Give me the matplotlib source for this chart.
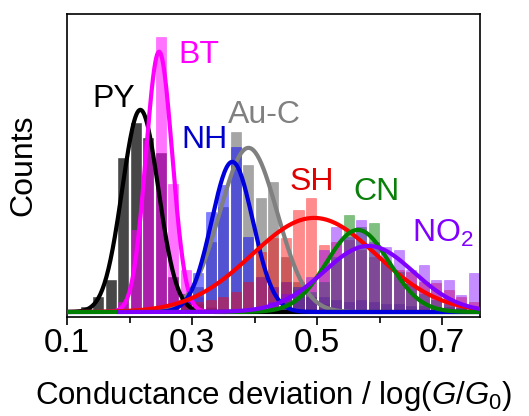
import numpy as np
import matplotlib
matplotlib.use("Agg")
import matplotlib.pyplot as plt

plt.rcParams["font.family"] = ["Liberation Sans", "DejaVu Sans"]
plt.rcParams["mathtext.fontset"] = "custom"
plt.rcParams["mathtext.rm"] = "Liberation Sans"
plt.rcParams["mathtext.it"] = "Liberation Sans:italic"

# histogram bin centres, log(G/G0) deviation
bins = [0.11, 0.13, 0.15, 0.17, 0.19, 0.21, 0.23, 0.25, 0.27, 0.29, 0.31,
        0.33, 0.35, 0.37, 0.39, 0.41, 0.43, 0.45, 0.47, 0.49, 0.51, 0.53,
        0.55, 0.57, 0.59, 0.61, 0.63, 0.65, 0.67, 0.69, 0.71, 0.73, 0.75]

py_counts = [0, 5, 15, 32, 154, 189, 174, 159, 35, 18, 8, 4, 2, 0, 0, 0, 0,
             0, 0, 0, 0, 0, 0, 0, 0, 0, 0, 0, 0, 0, 0, 0, 0]
bt_counts = [0, 0, 0, 3, 10, 82, 172, 275, 128, 42, 15, 5, 0, 0, 0, 0, 0,
             0, 0, 0, 0, 0, 0, 0, 0, 0, 0, 0, 0, 0, 0, 0, 0]
auc_counts = [0, 0, 0, 0, 0, 0, 0, 0, 0, 5, 25, 70, 105, 180, 147, 114, 130,
              55, 30, 15, 8, 4, 0, 0, 0, 0, 0, 0, 0, 0, 0, 0, 0]
nh_counts = [0, 0, 0, 0, 0, 0, 0, 0, 3, 10, 39, 100, 127, 165, 75, 35, 25,
             30, 22, 15, 15, 12, 10, 12, 10, 8, 8, 6, 6, 5, 5, 4, 4]
sh_counts = [0, 0, 0, 0, 0, 0, 0, 3, 5, 8, 10, 12, 15, 20, 30, 60, 74,
             74, 102, 114, 67, 70, 72, 62, 55, 50, 42, 40, 30, 29, 22, 15, 10]
cn_counts = [0, 0, 0, 0, 0, 0, 0, 0, 0, 0, 0, 0, 0, 0, 0, 0, 5,
             10, 25, 20, 30, 55, 97, 85, 89, 50, 40, 28, 18, 12, 8, 4, 2]
no2_counts = [0, 0, 0, 0, 0, 0, 0, 0, 0, 0, 0, 0, 0, 0, 0, 5, 10,
              18, 25, 35, 62, 85, 75, 92, 70, 65, 62, 42, 47, 32, 32, 17, 39]

# gaussian fits: centre, width, amplitude, fitted range
fits = {
    "Au-C": (0.390, 0.046, 164, (0.10, 0.76)),
    "PY": (0.217, 0.029, 202, (0.10, 0.76)),
    "BT": (0.247, 0.021, 260, (0.17, 0.355)),
    "NH": (0.364, 0.033, 150, (0.10, 0.76)),
    "SH": (0.495, 0.100, 94, (0.10, 0.76)),
    "CN": (0.565, 0.050, 82, (0.10, 0.76)),
    "NO2": (0.582, 0.072, 66, (0.18, 0.76)),
}

bar_style = {
    "PY": ("#333333", 0.9),
    "BT": ("#ff00ff", 0.55),
    "Au-C": ("#7f7f7f", 0.7),
    "NH": ("#0000ff", 0.5),
    "SH": ("#ff0000", 0.45),
    "CN": ("#008000", 0.5),
    "NO2": ("#8000ff", 0.45),
}
line_colors = {"PY": "black", "BT": "#ff00ff", "NH": "#0000dd", "Au-C": "#808080",
               "SH": "#ff0000", "CN": "#008000", "NO2": "#8000ff"}

hist = {"PY": py_counts, "BT": bt_counts, "Au-C": auc_counts, "NH": nh_counts,
        "SH": sh_counts, "CN": cn_counts, "NO2": no2_counts}

fig = plt.figure(figsize=(5.29, 4.16), dpi=100)
ax = fig.add_axes([0.127, 0.238, 0.780, 0.729])

for name, counts in hist.items():
    color, alpha = bar_style[name]
    ax.bar(bins, counts, width=0.016, color=color, alpha=alpha,
           edgecolor=color, linewidth=0.4, zorder=2)

for name, (mu, sig, amp, (x0, x1)) in fits.items():
    x = np.linspace(x0, x1, 400)
    y = amp * np.exp(-0.5 * ((x - mu) / sig) ** 2)
    ax.plot(x, y, color=line_colors[name], lw=3, zorder=3,
            solid_capstyle="butt")

# series labels
labels = [
    ("PY", 0.174, 205, "black", "center"),
    ("BT", 0.310, 249, "#ff00ff", "center"),
    ("Au-C", 0.415, 189, "#808080", "center"),
    ("NH", 0.319, 164, "#0000cc", "center"),
    ("SH", 0.492, 122, "#e00000", "center"),
    ("CN", 0.594, 112, "#0a800a", "center"),
    ("NO$_2$", 0.652, 70, "#8000ff", "left"),
]
for txt, x, y, c, ha in labels:
    ax.text(x, y, txt, color=c, fontsize=23, ha=ha, va="baseline", zorder=5)

ax.set_xlim(0.1, 0.76)
ax.set_ylim(-5, 298)
ax.set_xticks([0.1, 0.3, 0.5, 0.7])
ax.set_xticklabels(["0.1", "0.3", "0.5", "0.7"])
ax.set_xticks([0.2, 0.4, 0.6], minor=True)
ax.set_yticks([])
ax.tick_params(axis="x", which="major", direction="out", length=6, width=1.2,
               labelsize=24, pad=2)
ax.tick_params(axis="x", which="minor", direction="out", length=4, width=1.2)
for sp in ax.spines.values():
    sp.set_linewidth(1.2)

ax.set_xlabel("Conductance deviation / log($G$/$G_0$)", fontsize=22.5, labelpad=14)
ax.set_ylabel("Counts", fontsize=23, labelpad=21)

fig.savefig("out.png", dpi=100)
